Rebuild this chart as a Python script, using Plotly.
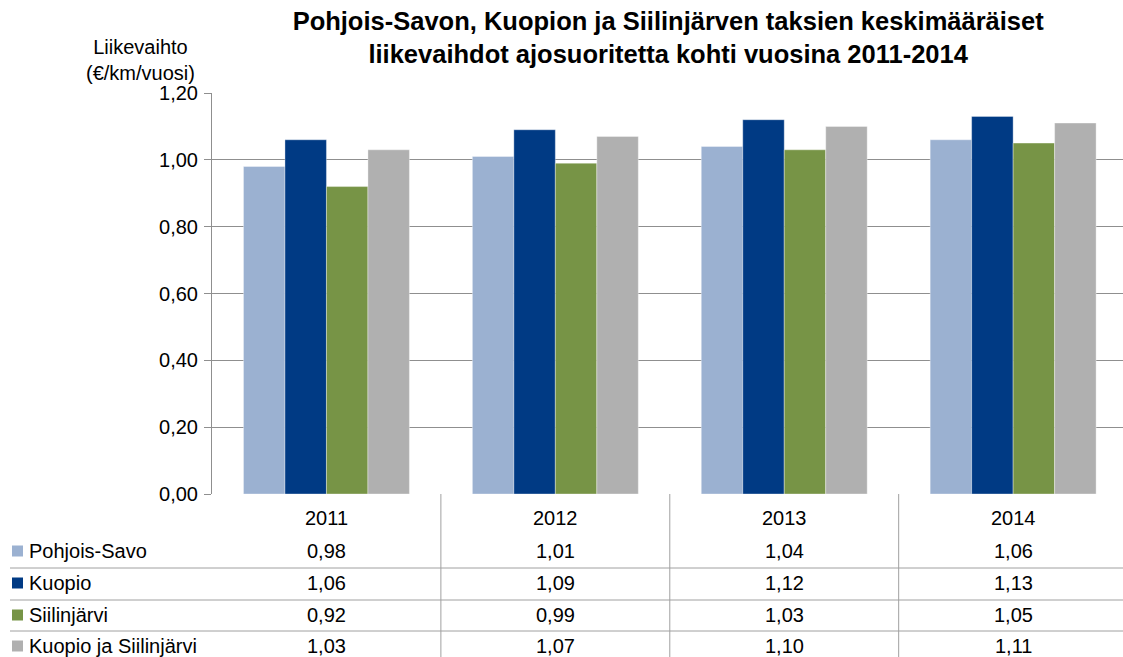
import plotly.graph_objects as go

years = ["2011", "2012", "2013", "2014"]
series_names = ["Pohjois-Savo", "Kuopio", "Siilinjärvi", "Kuopio ja Siilinjärvi"]
pohjois_savo = [0.98, 1.01, 1.04, 1.06]
kuopio = [1.06, 1.09, 1.12, 1.13]
siilinjarvi = [0.92, 0.99, 1.03, 1.05]
kuopio_siilinjarvi = [1.03, 1.07, 1.10, 1.11]
series_values = [pohjois_savo, kuopio, siilinjarvi, kuopio_siilinjarvi]
colors = ["#9BB1D1", "#003A84", "#779446", "#B0B0B0"]

title_text = "Pohjois-Savon, Kuopion ja Siilinjärven taksien keskimääräiset<br>liikevaihdot ajosuoritetta kohti vuosina 2011-2014"
ytitle_text = "Liikevaihto<br>(€/km/vuosi)"

FONT = "Liberation Sans, Arial, sans-serif"
FS = 20
W, H = 1123, 657
ML, MR, MT, MB = 212, 0, 93, 163
plot_h = H - MT - MB

def py(pix):
    # pixel row -> paper y
    return (H - MB - pix) / plot_h

def px(pix):
    return (pix - ML) / (W - ML - MR)

xs = list(range(len(years)))
fig = go.Figure()
for name, vals, col in zip(series_names, series_values, colors):
    fig.add_trace(go.Bar(x=xs, y=vals, name=name,
                         marker=dict(color=col, line=dict(width=0.8, color="rgba(255,255,255,0.45)")),
                         showlegend=False, hoverinfo="skip"))

fig.update_layout(
    width=W, height=H,
    margin=dict(l=ML, r=MR, t=MT, b=MB),
    paper_bgcolor="white", plot_bgcolor="white",
    barmode="group", bargap=0.275, bargroupgap=0,
    separators=", ",
    font=dict(family=FONT, size=FS, color="#000000"),
    title=dict(text="<b>" + title_text + "</b>", x=0.595, xanchor="center", y=0.955, yanchor="top",
               font=dict(size=25.5, family=FONT, color="#000000")),
    xaxis=dict(range=[-0.5, 3.48], showticklabels=False, showgrid=False, zeroline=False,
               showline=False, ticks=""),
    yaxis=dict(range=[0, 1.2], dtick=0.2, tickformat=".2f", showgrid=True, gridcolor="#8F8F8F",
               gridwidth=1, zeroline=False, showline=True, linecolor="#8F8F8F", linewidth=1,
               ticks="outside", ticklen=7, tickcolor="#8F8F8F", tickfont=dict(size=FS, color="#000000"),
               ticklabelstandoff=2),
)

ann = []
shapes = []
# y axis title
ann.append(dict(text=ytitle_text, xref="paper", yref="paper", x=px(140), y=py(60), xanchor="center",
                yanchor="middle", showarrow=False, font=dict(size=FS, family=FONT), align="center"))

# table: year row
for i, yr in enumerate(years):
    ann.append(dict(text=yr, xref="x", yref="paper", x=xs[i], y=py(518), showarrow=False,
                    xanchor="center", yanchor="middle", font=dict(size=FS, family=FONT)))

row_y = [551, 583, 615, 646]
for r, (name, vals, col) in enumerate(zip(series_names, series_values, colors)):
    ann.append(dict(text=name, xref="paper", yref="paper", x=px(27), y=py(row_y[r]), showarrow=False,
                    xanchor="left", yanchor="middle", font=dict(size=FS, family=FONT)))
    shapes.append(dict(type="rect", xref="paper", yref="paper", x0=px(12), x1=px(23),
                       y0=py(row_y[r] - 5.5), y1=py(row_y[r] + 5.5), fillcolor=col, line=dict(width=0)))
    for i, v in enumerate(vals):
        ann.append(dict(text=f"{v:.2f}".replace(".", ","), xref="x", yref="paper", x=xs[i], y=py(row_y[r]),
                        showarrow=False, xanchor="center", yanchor="middle", font=dict(size=FS, family=FONT)))

# horizontal table lines
for ly in [568, 600, 631]:
    shapes.append(dict(type="line", xref="paper", yref="paper", x0=px(10), x1=1, y0=py(ly), y1=py(ly),
                       line=dict(color="#A0A0A0", width=1)))
# vertical table lines at category boundaries
for i in range(1, len(years)):
    shapes.append(dict(type="line", xref="x", yref="paper", x0=i - 0.5, x1=i - 0.5, y0=0, y1=py(H),
                       line=dict(color="#A0A0A0", width=1)))

fig.update_layout(annotations=ann, shapes=shapes)
fig.write_html("out.html", config={"displayModeBar": False},
               post_script="document.body.style.margin='0';document.body.style.overflow='hidden';")
